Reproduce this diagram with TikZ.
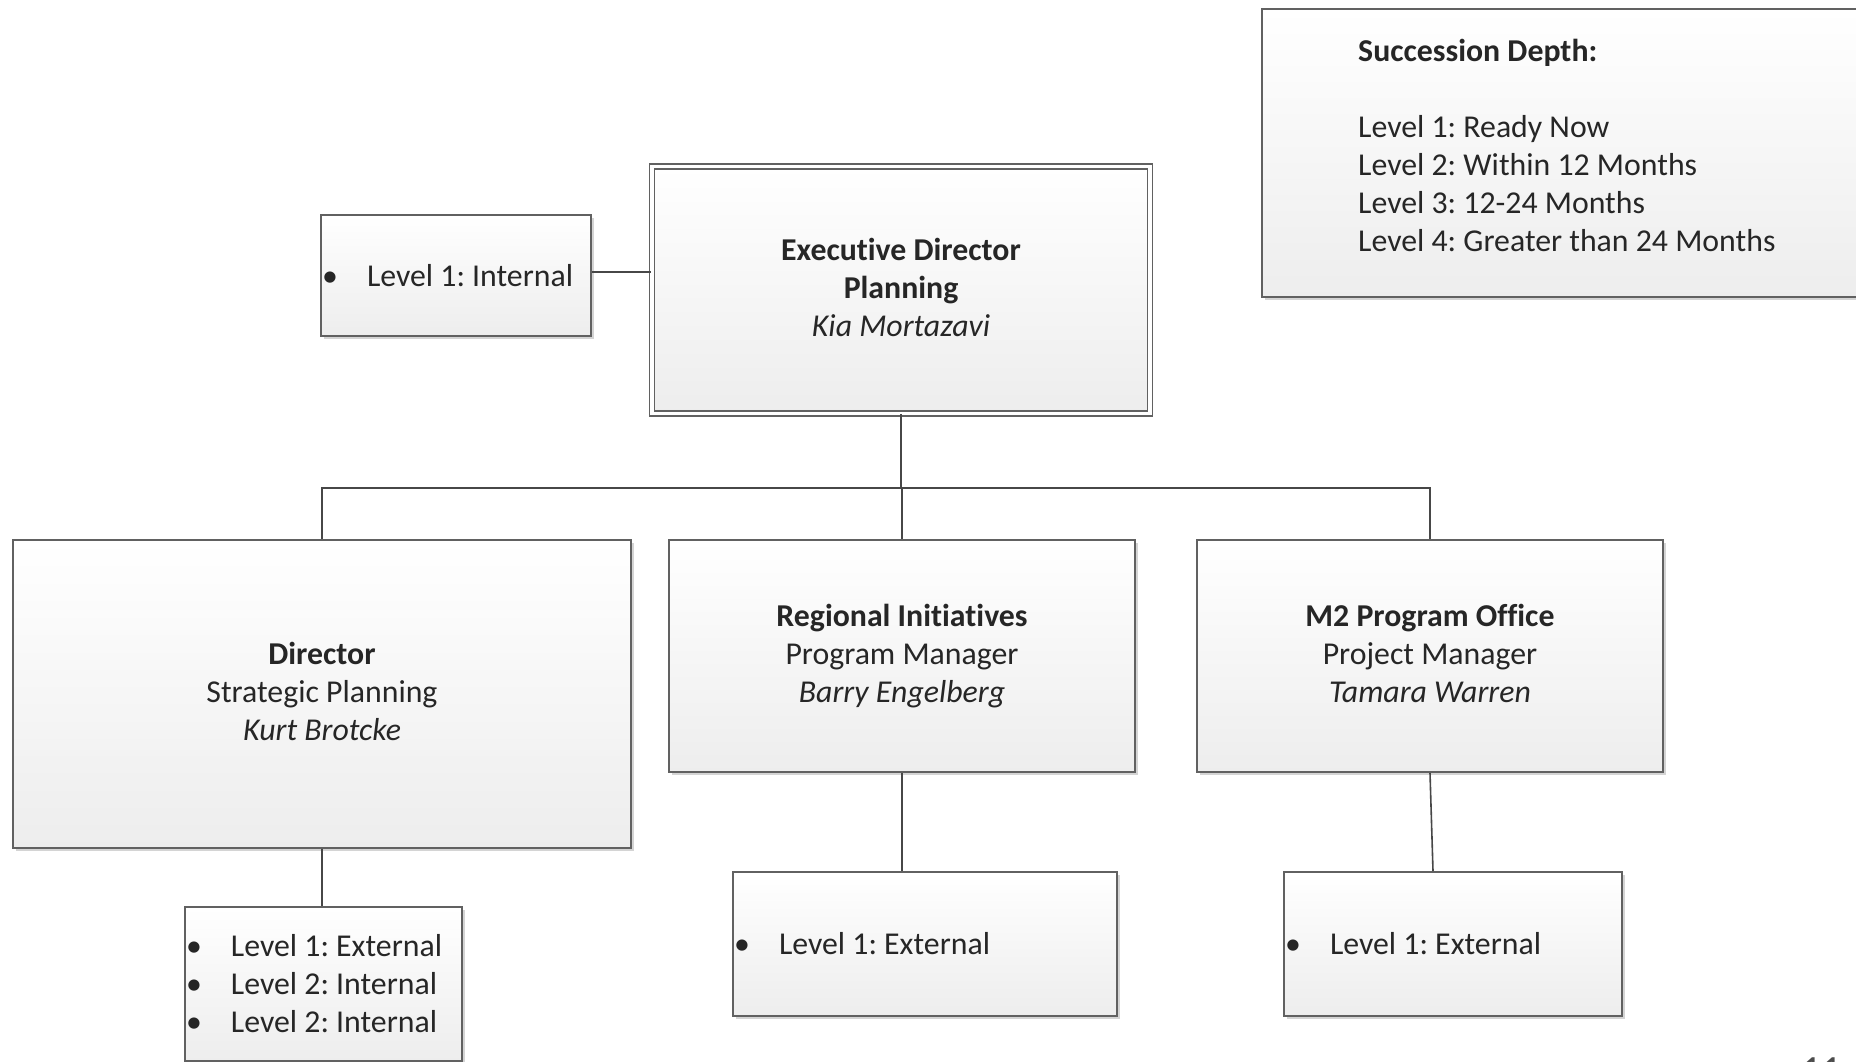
\documentclass[tikz,border=0pt]{standalone}
\usepackage{fontspec}
\setmainfont{Carlito}[Ligatures=NoCommon]
\usetikzlibrary{shadows}
\frenchspacing
% evens out the depth of the last line in the centred cards
\newcommand\lastline{\vphantom{g}}
% one bulleted line of a succession list, with the font's own word spacing
\newcommand\bul[1]{\makebox[46pt][l]{\hspace{1pt}•}\mbox{\spaceskip=0pt\xspaceskip=0pt\relax #1}}

\begin{document}
\begin{tikzpicture}[x=1pt, y=-1pt,
  every node/.style={font=\fontsize{31.8}{38}\selectfont, text=black!85},
  card/.style={rectangle, draw=black!62, line width=2pt,
    top color=white, bottom color=black!7,
    drop shadow={shadow xshift=3pt, shadow yshift=-3pt, fill=black!30, opacity=0.55},
    align=center, inner sep=0pt},
  listcard/.style={card, align=left, inner xsep=0pt},
  headcard/.style={card, double=white, double distance=3.2pt, line width=1.8pt},
  link/.style={draw=black!72, line width=1.6pt}]

\useasboundingbox (0,0) rectangle (1856,1061);
\clip (0,0) rectangle (1856,1061);
\fill[white] (0,0) rectangle (1856,1061);

% legend
\node[card, anchor=north west, minimum width=700, minimum height=288] (legend) at (1261,8) {};
\node[anchor=north west, align=left, inner sep=0pt] (legendtext) at (1358,39)
  {\textbf{Succession Depth:}\\[38pt]Level 1: Ready Now\\Level 2: Within 12 Months\\Level 3: 12-24 Months\\Level 4: Greater than 24 Months};

% top of the chart
\node[headcard, minimum width=498, minimum height=247] (exec) at (901,290)
  {\textbf{Executive Director}\\\textbf{Planning}\\\textit{Kia Mortazavi}\lastline};
\node[listcard, minimum width=270, minimum height=121, text width=270] (execlist) at (456,275.5)
  {\bul{Level 1: Internal}};

% second row
\node[card, minimum width=618, minimum height=308] (dir) at (322,694)
  {\textbf{Director}\\Strategic Planning\\\textit{Kurt Brotcke}\lastline};
\node[card, minimum width=466, minimum height=232] (reg) at (902,656)
  {\textbf{Regional Initiatives}\\Program Manager\\\textit{Barry Engelberg}\lastline};
\node[card, minimum width=466, minimum height=232] (mtwo) at (1430,656)
  {\textbf{M2 Program Office}\\Project Manager\\\textit{Tamara Warren}\lastline};

% succession lists
\node[listcard, minimum width=277, minimum height=154, text width=277] (dirlist) at (323.5,984)
  {\bul{Level 1: External}\\\bul{Level 2: Internal}\\\bul{Level 2: Internal}};
\node[listcard, minimum width=384, minimum height=144, text width=384] (reglist) at (925,944)
  {\bul{Level 1: External}};
\node[listcard, minimum width=338, minimum height=144, text width=338] (mtwolist) at (1453,944)
  {\bul{Level 1: External}};

% page number
\node[font=\fontsize{40}{48}\selectfont, anchor=base west, text=black!70, inner sep=0pt] (pagenum) at (1801,1083) {11};

% connectors
\coordinate (bus) at (0,488);
\draw[link] ([yshift=3.5pt]execlist.east) -- ([yshift=3.5pt]execlist.east -| exec.west);
\draw[link] (exec.south) -- (exec.south |- bus);
\draw[link] (dir.north) -- (dir.north |- bus) -| (mtwo.north);
\draw[link] (reg.north) -- (reg.north |- bus);
\draw[link] (dir.south) -- (dir.south |- dirlist.north);
\draw[link] (reg.south) -- (reg.south |- reglist.north);
\draw[link] (mtwo.south) -- ([xshift=-20pt]mtwolist.north);
\end{tikzpicture}
\end{document}
